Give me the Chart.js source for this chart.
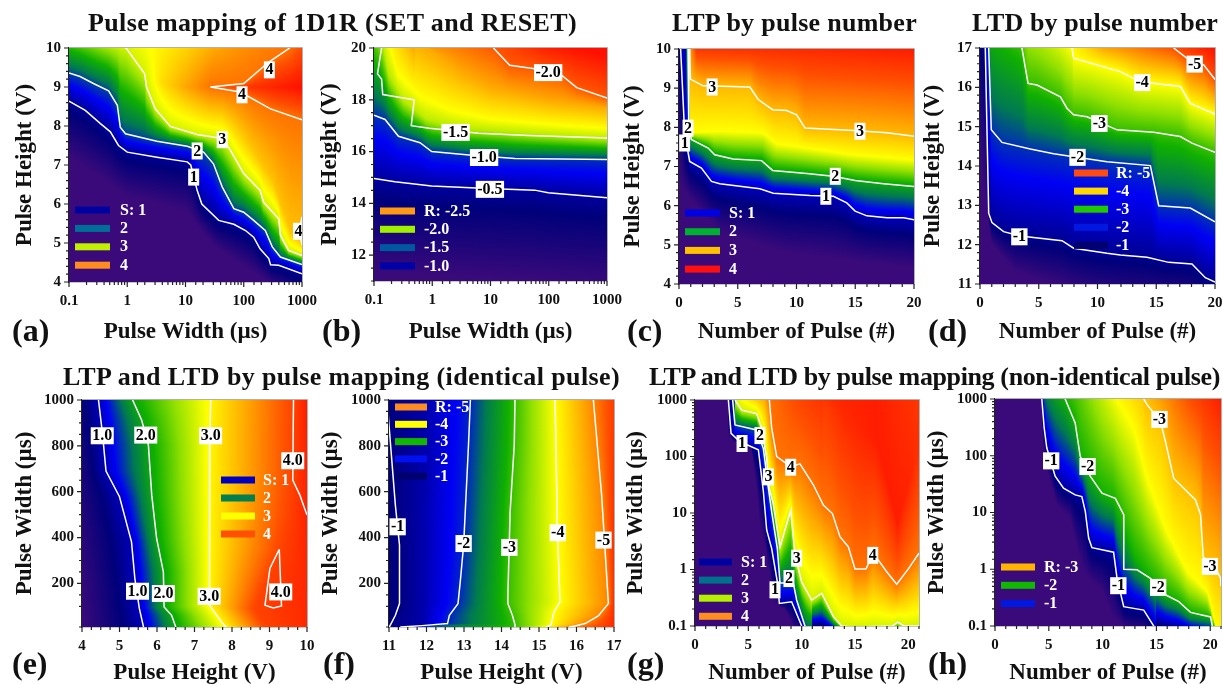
<!DOCTYPE html>
<html>
<head>
<meta charset="utf-8">
<title>Pulse mapping</title>
<script src="https://cdn.jsdelivr.net/npm/chart.js@4"></script>
<style>
  html, body { margin: 0; background: #fff; }
  #page { position: relative; width: 1223px; height: 684px; overflow: hidden; filter: blur(0.5px); }
  canvas { position: absolute; }
  .txt { position: absolute; font: bold 26px "Liberation Serif", serif; color: #111; white-space: nowrap; }
  .tag { font-size: 32px; }
</style>
</head>
<body>
<div id="page"></div>
<script>
'use strict';

// ---------------------------------------------------------------------------
// Data. Points are [x, y] or [x, y, colourIndex].
// Log axes are given in decades (-1 = 0.1, 3 = 1000).
// ---------------------------------------------------------------------------

// colour ramp used by every map, index = position on the ramp
const ramp = ['#3a0a7a', '#00007a', '#0000f5', '#007a50', '#10b000', '#90e000', '#ffff00', '#ffa800', '#ff5000', '#ff1000'];

const decadeLabels = ['0.1', '1', '10', '100', '1000'];

// (a)
const aPurple = [[-1,7.2],[0,6.2],[1,5.8],[1.5,4.9],[2,4.4],[2.4,4],[3,3.4]];
const aC1 = [[-1,8.64],[-0.72,8.4],[-0.46,8.06],[-0.29,7.85],[-0.15,7.5],[0,7.33],[0.51,7.2],[1.03,7.08],[1.09,7],[1.2,6.35],[1.28,6],[1.57,5.58],[1.83,5.48],[2.03,5.32],[2.17,5.15],[2.28,4.85],[2.43,4.6],[2.46,4.44],[2.6,4.43],[3,4.21]];
const aC2 = [[-1,9.36],[-0.81,9.27],[-0.58,9.09],[-0.32,8.9],[-0.17,8.53],[-0.12,7.97],[-0.03,7.8],[0.51,7.61],[1.03,7.48],[1.31,7.33],[1.48,7.03],[1.63,6.44],[1.83,5.88],[2,5.79],[2.17,5.58],[2.37,5.32],[2.49,4.9],[2.63,4.64],[3,4.45]];
const aC3 = [[-1,10.6],[-0.02,10],[0.3,9.34],[0.33,9],[0.48,8.44],[0.74,7.99],[1.2,7.78],[1.63,7.68],[1.77,7.38],[2,6.78],[2.28,6.35],[2.34,6.05],[2.6,5.62],[2.63,5.2],[2.77,4.81],[3,4.68]];
const aOrange = [[1.8,8.05,6.54],[2,7.7,6.6],[2.5,6.6,6.7],[2.8,5.3,6.7],[3,5,6.7]];
const aLow4 = [[1.43,9],[1.94,8.87],[2.46,8.44],[3,8.16]];
const aUp4 = [[1.43,9],[2,9.09],[2.43,9.64],[2.79,10]];
const aSpot4 = [[3,5.67],[2.95,5.3],[3,4.95]];
const aRidge = [[0.3,9.34,5.6],[0.6,9.1,6.4],[1,9,7],[1.43,9,7.6],[2,9,8.4],[3,9,9]];
const aTop = [[-0.02,10,5.6],[0.5,10,6.1],[1,10,6.5],[1.5,10,7],[2,10,7.3],[2.79,10,7.6],[3,10,8.1]];
const aTags = [['1',1.14,6.69],['2',1.2,7.36],['3',1.63,7.65],['4',2.44,9.44],['4',1.97,8.8],['4',2.94,5.3]];

// (b)
const bPurple = [[-1,11.3],[3,10.8]];
const bC05 = [[-1,14.96],[-0.64,14.83],[-0.01,14.67],[0.85,14.58],[1.76,14.51],[1.99,14.41],[3,14.22]];
const bC10 = [[-1,17.4],[-0.81,17.24],[-0.58,16.59],[-0.21,16.34],[-0.01,16],[0.68,15.86],[1.42,15.73],[3,15.69]];
const bC15 = [[-0.87,20],[-0.94,19],[-0.87,18.8],[-0.85,18.2],[-0.31,18],[-0.36,17],[-0.05,16.9],[0.8,16.71],[1.66,16.62],[3,16.52]];
const bLime = [[-1,21.4],[-0.87,20.4],[-0.75,19],[-0.5,18],[-0.1,17.25],[0.5,16.9],[1.7,16.7],[3,16.5]];
const bYellow = [[-0.9,22],[-0.75,20.3],[-0.6,19],[-0.2,18.1],[0.3,17.6],[1,17.25],[2,17.05],[3,16.9]];
const bOrange = [[-0.3,20.4],[0.5,19.1],[1,18.5],[2,18],[3,17.7]];
const bC20 = [[1.05,20],[1.33,19.33],[1.76,19.2],[2.22,18.95],[2.48,18.47],[3,18.07]];
const bTop = [[-0.75,20,6],[-0.3,20,7],[1.05,20,7.9],[2,20,8.8],[3,20,9.2]];
const bTags = [['-2.0',1.99,19.05],['-1.5',0.4,16.74],['-1.0',0.89,15.77],['-0.5',0.99,14.54]];

// (c)
const cPurple = [[0,6.5],[3.5,5.3],[9,4.8],[20,4.4]];
const cC1 = [[0,13],[0.14,10],[0.48,7.86],[0.91,7.13],[1.91,6.96],[2.76,6.62],[3.47,6.56],[6.88,6.43],[8.02,6.32],[11.15,6.26],[13.14,6.24],[14.28,6.07],[14.99,5.86],[15.99,5.74],[17.7,5.69],[19.12,5.69],[20,5.64]];
const cC2 = [[0.6,12],[0.77,10],[0.83,8.03],[1.05,7.69],[2.48,7.47],[3.04,7.3],[4.61,7.19],[7.03,7.15],[7.97,6.9],[10.87,6.82],[13.14,6.75],[14.99,6.64],[17.41,6.56],[20,6.49]];
const cYellow = [[0.8,12],[0.97,7.86],[3.47,7.9],[7.17,7.86],[8.3,7.58],[14.85,7.3],[20,7.17]];
const cC3 = [[0.7,12],[0.91,10],[0.97,9.23],[2.05,9.06],[6.03,9.03],[6.74,8.71],[7.97,8.45],[9.16,8.43],[10.01,8.32],[10.73,7.98],[14.85,7.92],[17.7,7.86],[20,7.77]];
const cTop = [[0.91,10,7],[1.5,10,8.4],[20,10,8.8]];
const cTags = [['1',0.48,7.6],['2',0.77,7.98],['3',2.82,9.03],['3',15.4,7.9],['2',13.3,6.75],['1',12.5,6.24]];

// (d)
const dPurple = [[0,14],[1,12],[3,11.3],[6,11],[10,10.6],[20,10.3]];
const dC1 = [[0,18],[0.45,17],[0.74,12.8],[1.02,12.56],[2.01,12.33],[3.43,12.22],[6.98,12.1],[7.97,11.91],[10.81,11.78],[11.94,11.74],[14.21,11.68],[16.06,11.55],[18.04,11.51],[19.18,11.16],[20,11.05]];
const dC2 = [[0.3,19],[0.74,17],[0.96,14.92],[1.87,14.6],[4.28,14.43],[6.27,14.31],[8.26,14.22],[10.81,14.11],[14.5,14.01],[15.21,12.99],[17.9,12.93],[20,12.58]];
const dC3 = [[0.74,17.8],[3.57,17],[4.09,16.1],[4.85,16.06],[6.84,15.76],[7.4,15.47],[7.97,15.3],[9.11,15.25],[11.66,14.92],[14.78,14.86],[17.05,14.75],[18.04,14.58],[20,14.35]];
const dC4 = [[0.74,19.5],[7.83,17],[7.97,16.74],[11.94,16.4],[13.65,16.14],[17.05,16.02],[17.9,15.59],[20,15.32]];
const dC5 = [[16.48,17],[17.62,16.74],[19.04,16.57],[20,16.2]];
const dTop = [[7.83,17,6],[10.5,17,7],[16.48,17,8],[20,17,9]];
const dTags = [['-1',3.35,12.2],['-2',8.3,14.22],['-3',10.16,15.08],['-4',13.8,16.12],['-5',18.27,16.59]];

// (e)
const eLeft = [[4,1000,0.9],[4,600,0.5],[4,200,0.1],[4,10,0]];
const eC1 = [[4.44,1000],[4.55,847],[4.64,690],[5,578],[5.32,381],[5.41,221],[5.53,90],[5.64,10]];
const eC2 = [[5.35,1000],[5.59,913],[5.77,804],[5.86,585],[5.99,396],[6.17,250],[6.19,97],[6.39,61],[6.5,10]];
const eC3 = [[7.43,1000],[7.41,804],[7.4,105],[7.72,32],[7.84,10]];
const eC4 = [[9.64,1000],[9.62,651],[9.81,585],[10,498]];
const eLoop = [[9.26,349],[9.01,265],[8.88,105],[9.1,93],[9.32,102],[9.26,349]];
const eRidge = [[9.64,1000],[9.62,651],[9.5,500],[9.3,349],[8.88,200],[8.6,90],[8.9,10]];
const eRight = [[10,1000,8.8],[10,10,8.6]];
const eTags = [['1.0',4.54,844],['2.0',5.7,847],['3.0',7.43,844],['4.0',9.62,735],['1.0',5.48,166],['2.0',6.17,156],['3.0',7.39,144],['4.0',9.3,163]];

// (f)
const fLeft = [[11,1000,1],[11,10,1]];
const fC1 = [[10.95,1000],[11,891],[11.17,541],[11.28,367],[11.28,112],[11.17,61],[11.01,10]];
const fNavy = [[12,1000],[11.9,500],[11.9,10]];
const fC2 = [[13.17,1000],[13.12,804],[12.99,367],[12.9,207],[12.84,112],[12.61,61],[12.56,25],[11.88,16],[11.3,10]];
const fC3 = [[14.36,1000],[14.34,804],[14.23,512],[14.17,148],[14.17,112],[14.29,61],[14.36,20],[14.36,10]];
const fC4 = [[15.43,1000],[15.49,440],[15.56,119],[15.4,76],[15.32,20],[15.2,10]];
const fC5 = [[16.45,1000],[16.67,585],[16.85,112],[16.58,58],[16.23,25],[15.96,14],[15.8,10]];
const fRight = [[17,1000,8.3],[17,10,8.6]];
const fTags = [['-1',11.23,447],['-2',12.99,374],['-3',14.21,357],['-4',15.5,421],['-5',16.72,389]];

// (g)
const gPurple = [[2.5,3],[2.8,2.41],[3.6,2.26],[5.3,2.12],[5.8,1.38],[6.1,0.7],[6.6,0.37],[7.1,-0.22],[7.3,-0.6],[8.4,-0.7],[9.3,-1.05],[21,-1.3]];
const gC1 = [[3.13,3],[3.38,2.41],[4.22,2.26],[5.94,2.12],[6.41,1.38],[6.72,0.7],[7.19,0.37],[7.72,-0.22],[7.91,-0.6],[9.06,-0.57],[10,-1],[10.5,-1.2]];
const gC2 = [[3.53,3],[3.75,2.56],[5.78,2.47],[6.41,2.14],[6.88,1.44],[7.19,1.02],[7.72,0.37],[7.97,-0.24],[9.22,-0.24],[9.53,-0.54],[10.31,-1],[11,-1.2]];
const gC3 = [[3.75,3],[4.38,2.82],[5.78,2.76],[6.25,2.5],[6.72,1.97],[6.88,1.5],[7.34,1.17],[7.97,0.4],[8.97,1.05],[9.38,0.26],[10,-0.22],[10.94,-0.54],[11.88,-0.42],[12.97,-0.83],[13.75,-1],[14.8,-1.02],[18.5,-1],[19,-0.93],[19.6,-1],[21,-1]];
const gC4 = [[6.97,3],[7.19,2.5],[7.66,2],[8.97,1.82],[9.84,1.87],[11.09,1.5],[12.03,1.14],[12.88,0.99],[13.59,0.58],[14.38,0.4],[15,0.01],[16.03,0.01],[16.72,0.29],[17.97,-0.04],[18.91,-0.26],[20,0.01],[21,0.29]];
const gRed = [[12,2.95,8.3],[14,2.7,8.6],[17,2.3,8.8],[19,0.8,8.8],[20,1.5,8.7],[21,2.2,8.5]];
const gTop = [[3.75,3,5.6],[5,3,6.2],[6.5,3,6.9],[7,3,7.6],[10,3,8.2],[14,3,8.7],[17,3,8.8],[21,3,8.4]];
const gTags = [['1',4.41,2.23],['2',6.09,2.37],['3',6.88,1.64],['4',8.97,1.81],['3',9.53,0.2],['4',16.66,0.25],['2',8.81,-0.16],['1',7.5,-0.36]];

// (h)
const hPurple = [[4,3],[4.3,2.49],[4.5,2.14],[5,1.64],[5.8,1.1],[7,0.9],[7.8,0.2],[8.3,-0.1],[10,-0.4],[11,-0.9],[12.5,-1.1],[15,-1.2],[21,-1.3]];
const hC1 = [[4.35,3],[4.57,2.49],[4.81,2.14],[5.59,1.64],[6.37,1.43],[7.45,1.31],[8.07,1.28],[8.39,1.02],[8.7,0.55],[9.01,0.38],[11.02,0.3],[11.34,-0.16],[11.96,-0.66],[13.82,-0.72],[14.75,-1],[15,-1.2]];
const hC2 = [[4.35,3.6],[6.52,3],[7.45,2.58],[7.92,1.99],[8.85,1.64],[9.94,1.34],[11.18,1.25],[11.96,0.96],[11.97,0],[13.2,-0.01],[14.44,-0.16],[15.84,-0.45],[17.08,-0.57],[18.17,-0.76],[20.03,-0.84],[20.19,-1],[20.3,-1.2]];
const hGreen = [[4.35,3.6],[6.52,3],[7.45,2.58],[7.92,1.99],[8.85,1.64],[9.94,1.34],[11,1.2],[12,0.7],[13,0.2],[14.44,-0.16],[15.84,-0.45],[17.08,-0.57],[18.17,-0.76],[20.03,-0.84],[20.19,-1],[20.3,-1.2]];
const hYellow = [[11.34,3],[12.89,2.49],[14.13,1.6],[15.84,0.72],[17.86,-0.04],[19.72,-0.39],[20.5,-1],[21,-1.2]];
const hC3 = [[13.82,3],[14.13,2.9],[15.37,2.61],[15.84,2.25],[16.61,1.6],[18.63,1.22],[19.1,0.96],[19.35,0.22],[20.5,0.02],[20.96,-0.16],[21,-0.3]];
const hTop = [[6.52,3,4],[9,3,5],[11.34,3,6],[13.82,3,6.6],[18,3,8],[21,3,8.8]];
const hTags = [['-1',5.22,1.91],['-2',8.6,1.81],['-3',15.28,2.64],['-3',19.97,0.05],['-1',11.46,-0.29],['-2',15.16,-0.32]];

// legends
const legendS = ['S: 1', '2', '3', '4'];
const legendR2 = ['R: -2.5', '-2.0', '-1.5', '-1.0'];
const legendR5 = ['R: -5', '-4', '-3', '-2', '-1'];
const legendR3 = ['R: -3', '-2', '-1'];

const titles = [
  ['Pulse mapping of 1D1R (SET and RESET)', 88, 577, 23],
  ['LTP by pulse number', 672, 917, 23],
  ['LTD by pulse number', 972, 1218, 23],
  ['LTP and LTD by pulse mapping (identical pulse)', 63, 620, 377],
  ['LTP and LTD by pulse mapping (non-identical pulse)', 649, 1220, 377],
];

// ---------------------------------------------------------------------------
// Panels
// ---------------------------------------------------------------------------

const HEIGHT = 'Pulse Height (V)', WIDTH = 'Pulse Width (µs)', COUNT = 'Number of Pulse (#)';

const panels = [
  { tag: '(a)', tagX: 12, tagY: 330, box: [69, 302, 48, 282], yTitleX: 25, xTitleY: 332, along: 'x',
    x: { log: true, min: 0.1, max: 1000, title: WIDTH },
    y: { min: 4, max: 10, step: 0.2, every: 1, title: HEIGHT },
    field: [[aPurple, 0], [aC1, 1.25], [aC2, 2.55], [aC3, 5.6], [aOrange], [aLow4, 7.6], [aRidge], [aUp4, 7.6], [aTop]],
    lines: [aC1, aC2, aC3, aLow4, aUp4, aSpot4], tags: aTags,
    legend: { labels: legendS, colors: ['#0000a0', '#006e96', '#c0f000', '#ff8c1e'], x: 6, y: 162, step: 18.4, w: 35, textX: 51 } },
  { tag: '(b)', tagX: 322, tagY: 330, box: [374, 607, 48, 281], yTitleX: 330, xTitleY: 332, along: 'x',
    x: { log: true, min: 0.1, max: 1000, title: WIDTH },
    y: { min: 11, max: 20, step: 0.5, every: 2, title: HEIGHT },
    field: [[bPurple, 0], [bC05, 1.3], [bC10, 2.4], [bLime, 5.4], [bYellow, 6], [bOrange, 7], [bC20, 7.9], [bTop]],
    lines: [bC05, bC10, bC15, bC20], tags: bTags,
    legend: { labels: legendR2, colors: ['#ff9a14', '#a0f000', '#0058a0', '#0000a8'], x: 6, y: 163, step: 18.3, w: 35, textX: 50 } },
  { tag: '(c)', tagX: 627, tagY: 330, box: [679, 914, 49, 284], yTitleX: 633, xTitleY: 332, along: 'x',
    x: { min: 0, max: 20, step: 1, every: 5, title: COUNT },
    y: { min: 4, max: 10, step: 0.2, every: 1, title: HEIGHT },
    field: [[cPurple, 0], [cC1, 1.5], [cC2, 3.8], [cYellow, 6], [cC3, 6.8], [cTop]],
    lines: [cC1, cC2, cC3], tags: cTags,
    legend: { labels: legendS, colors: ['#0000e0', '#00b030', '#ffc000', '#ff1010'], x: 6, y: 164, step: 18.7, w: 35, textX: 50 } },
  { tag: '(d)', tagX: 928, tagY: 330, box: [980, 1215, 48, 284], yTitleX: 933, xTitleY: 332, along: 'x',
    x: { min: 0, max: 20, step: 1, every: 5, title: COUNT },
    y: { min: 11, max: 17, step: 0.2, every: 1, title: HEIGHT },
    field: [[dPurple, 0], [dC1, 1.2], [dC2, 2.4], [dC3, 4.3], [dC4, 6], [dC5, 8], [dTop]],
    lines: [dC1, dC2, dC3, dC4, dC5], tags: dTags,
    legend: { labels: legendR5, colors: ['#ff4a14', '#ffd800', '#20c800', '#0018e0', '#00006e'], x: 94, y: 125, step: 18.1, w: 34, textX: 136 } },
  { tag: '(e)', tagX: 12, tagY: 663, box: [82, 307, 400, 627], yTitleX: 25, xTitleY: 673, along: 'y',
    x: { min: 4, max: 10, step: 0.25, every: 1, title: HEIGHT },
    y: { min: 10, max: 1000, step: 50, every: 200, title: WIDTH },
    field: [[eLeft], [eC1, 1.5], [eC2, 3.8], [eC3, 6.1], [eRidge, 8.2], [eRight]],
    lines: [eC1, eC2, eC3, eC4, eLoop], tags: eTags,
    legend: { labels: legendS, colors: ['#0000c0', '#008050', '#ffff00', '#ff5000'], x: 139, y: 80, step: 18, w: 34, textX: 181 } },
  { tag: '(f)', tagX: 323, tagY: 663, box: [389, 614, 400, 627], yTitleX: 331, xTitleY: 673, along: 'y',
    x: { min: 11, max: 17, step: 0.25, every: 1, title: HEIGHT },
    y: { min: 10, max: 1000, step: 50, every: 200, title: WIDTH },
    field: [[fLeft], [fC1, 1.05], [fNavy, 1.4], [fC2, 2.3], [fC3, 4.3], [fC4, 6], [fC5, 7.4], [fRight]],
    lines: [fC1, fC2, fC3, fC4, fC5], tags: fTags,
    legend: { labels: legendR5, colors: ['#ff8c1e', '#ffff00', '#10b800', '#0010f0', '#00006e'], x: 6, y: 7, step: 17.3, w: 32, textX: 46 } },
  { tag: '(g)', tagX: 627, tagY: 663, box: [695, 919, 400, 626], yTitleX: 636, xTitleY: 673, along: 'x',
    x: { min: 0, max: 21, step: 1, every: 5, title: COUNT },
    y: { log: true, min: 0.1, max: 1000, title: WIDTH },
    field: [[gPurple, 0], [gC1, 1.3], [gC2, 2.6], [gC3, 5.6], [gC4, 7.6], [gRed], [gTop]],
    lines: [gC1, gC2, gC3, gC4], tags: gTags,
    legend: { labels: legendS, colors: ['#0000a0', '#00708c', '#b4f000', '#ff8c1e'], x: 4, y: 162, step: 18.1, w: 33, textX: 46 } },
  { tag: '(h)', tagX: 928, tagY: 663, box: [995, 1221, 399, 626], yTitleX: 937, xTitleY: 673, along: 'x',
    x: { min: 0, max: 21, step: 1, every: 5, title: COUNT },
    y: { log: true, min: 0.1, max: 1000, title: WIDTH },
    field: [[hPurple, 0], [hC1, 1.3], [hGreen, 4], [hYellow, 6], [hC3, 6.7], [hTop]],
    lines: [hC1, hC2, hC3], tags: hTags,
    legend: { labels: legendR3, colors: ['#ffb400', '#10b800', '#0018e0'], x: 6, y: 168, step: 18.3, w: 34, textX: 49 } },
];

// ---------------------------------------------------------------------------
// Colour helpers
// ---------------------------------------------------------------------------

function rampColor(t) {
  const c = Math.max(0, Math.min(ramp.length - 1, t));
  const i = Math.min(Math.floor(c), ramp.length - 2);
  const f = c - i;
  const a = ramp[i], b = ramp[i + 1];
  const ch = k => {
    const av = parseInt(a.substr(k, 2), 16), bv = parseInt(b.substr(k, 2), 16);
    return Math.round(av + (bv - av) * f);
  };
  return `rgb(${ch(1)},${ch(3)},${ch(5)})`;
}

// Where a polyline crosses the strip at pixel `p` along the strip axis
function crossing(line, p) {
  for (let i = 0; i < line.length - 1; i++) {
    const a = line[i], b = line[i + 1];
    if (p < Math.min(a.along, b.along) || p > Math.max(a.along, b.along)) continue;
    const f = a.along === b.along ? 0 : (p - a.along) / (b.along - a.along);
    return { across: a.across + (b.across - a.across) * f, t: a.t + (b.t - a.t) * f };
  }
  return null;
}

// ---------------------------------------------------------------------------
// Plugins
// ---------------------------------------------------------------------------

const mapPlugin = {
  id: 'mapField',
  beforeDatasetsDraw(chart, args, opts) {
    const { ctx, chartArea: area, scales } = chart;
    const panel = opts.panel;
    const alongX = panel.along === 'x';
    const toPx = (p) => {
      const px = scales.x.getPixelForValue(panel.x.log ? Math.pow(10, p[0]) : p[0]);
      const py = scales.y.getPixelForValue(panel.y.log ? Math.pow(10, p[1]) : p[1]);
      return { px, py };
    };
    const lines = panel.field.map(([pts, t]) => pts.map(p => {
      const { px, py } = toPx(p);
      return { along: alongX ? px : py, across: alongX ? py : px, t: t === undefined ? p[2] : t };
    }));

    ctx.save();
    ctx.beginPath();
    ctx.rect(area.left, area.top, area.width, area.height);
    ctx.clip();

    const start = alongX ? area.left : area.top;
    const end = alongX ? area.right : area.bottom;
    const dir = alongX ? -1 : 1; // stops run bottom to top, or left to right

    for (let p = start; p < end; p++) {
      const stops = [];
      let last = -Infinity;
      for (const line of lines) {
        const c = crossing(line, p + 0.5);
        if (!c) continue;
        last = Math.max(last, c.across * dir);
        stops.push({ u: last, t: c.t });
      }
      let fill;
      if (stops.length === 0) {
        fill = rampColor(0);
      } else if (stops[stops.length - 1].u - stops[0].u < 0.01) {
        fill = rampColor(stops[stops.length - 1].t);
      } else {
        const u0 = stops[0].u, u1 = stops[stops.length - 1].u;
        fill = alongX ? ctx.createLinearGradient(0, u0 * dir, 0, u1 * dir) : ctx.createLinearGradient(u0 * dir, 0, u1 * dir, 0);
        for (let i = 0; i < stops.length; i++) {
          const s = stops[i];
          fill.addColorStop((s.u - u0) / (u1 - u0), rampColor(s.t));
          const n = stops[i + 1];
          if (!n || n.u === s.u) continue;
          // keep the ramp's colours between two far apart stops
          const lo = Math.min(s.t, n.t), hi = Math.max(s.t, n.t);
          for (let k = Math.ceil(lo); k < hi; k++) {
            if (k === lo) continue;
            const u = s.u + (n.u - s.u) * (k - s.t) / (n.t - s.t);
            fill.addColorStop((u - u0) / (u1 - u0), rampColor(k));
          }
        }
      }
      ctx.fillStyle = fill;
      if (alongX) ctx.fillRect(p, area.top, 1, area.height);
      else ctx.fillRect(area.left, p, area.width, 1);
    }
    ctx.restore();
  },
  afterDatasetsDraw(chart, args, opts) {
    const { ctx, chartArea: area, scales } = chart;
    const panel = opts.panel;

    // contour tags
    ctx.save();
    ctx.font = 'bold 16px "Liberation Serif", serif';
    ctx.textAlign = 'center';
    ctx.textBaseline = 'middle';
    for (const [text, vx, vy] of panel.tags) {
      const x = scales.x.getPixelForValue(panel.x.log ? Math.pow(10, vx) : vx);
      const y = scales.y.getPixelForValue(panel.y.log ? Math.pow(10, vy) : vy);
      const w = ctx.measureText(text).width + 3;
      ctx.fillStyle = '#fff';
      ctx.fillRect(x - w / 2, y - 8.5, w, 17);
      ctx.fillStyle = '#000';
      ctx.fillText(text, x, y + 0.5);
    }

    // swatch legend inside the map
    const lg = panel.legend;
    ctx.textAlign = 'left';
    lg.labels.forEach((label, i) => {
      const y = area.top + lg.y + i * lg.step;
      ctx.fillStyle = lg.colors[i];
      ctx.fillRect(area.left + lg.x, y - 3.5, lg.w, 7);
      ctx.fillStyle = '#fff';
      ctx.fillText(label, area.left + lg.textX, y + 0.5);
    });
    ctx.restore();
  },
  afterDraw(chart) {
    const { ctx, chartArea: area, scales } = chart;
    ctx.save();
    // thin top and right frame
    ctx.strokeStyle = '#b0b0b0';
    ctx.lineWidth = 1;
    ctx.beginPath();
    ctx.moveTo(area.left, area.top - 0.5);
    ctx.lineTo(area.right + 0.5, area.top - 0.5);
    ctx.lineTo(area.right + 0.5, area.bottom);
    ctx.stroke();
    // major and minor tick marks
    ctx.strokeStyle = '#222';
    ctx.lineWidth = 1.2;
    ctx.beginPath();
    for (const t of scales.x.ticks) {
      const px = scales.x.getPixelForValue(t.value);
      ctx.moveTo(px, area.bottom);
      ctx.lineTo(px, area.bottom + (t.label ? 5 : 3));
    }
    for (const t of scales.y.ticks) {
      const py = scales.y.getPixelForValue(t.value);
      ctx.moveTo(area.left, py);
      ctx.lineTo(area.left - (t.label ? 5 : 3), py);
    }
    ctx.stroke();
    ctx.restore();
  },
};

// ---------------------------------------------------------------------------
// Building the charts
// ---------------------------------------------------------------------------

function axisOptions(axis, fixedSize, padding) {
  const ticks = { color: '#111', font: { family: '"Liberation Serif", serif', size: 15, weight: 'bold' },
    autoSkip: false, maxRotation: 0, padding };
  if (axis.log) {
    ticks.callback = v => {
      const e = Math.log10(v);
      return Math.abs(e - Math.round(e)) < 1e-6 ? decadeLabels[Math.round(e) + 1] : '';
    };
  } else {
    ticks.stepSize = axis.step;
    ticks.callback = v => {
      const r = v / axis.every;
      return Math.abs(r - Math.round(r)) < 1e-6 ? String(v) : '';
    };
  }
  return {
    type: axis.log ? 'logarithmic' : 'linear',
    min: axis.min,
    max: axis.max,
    grid: { display: false, drawTicks: false },
    border: { display: true, color: '#222', width: 1.2 },
    ticks,
    title: { display: true, text: axis.title, color: '#111', padding: 0,
      font: { family: '"Liberation Serif", serif', size: 23, weight: 'bold' } },
    afterFit(scale) {
      if (scale.isHorizontal()) scale.height = fixedSize; else scale.width = fixedSize;
      // the plot box is fixed by hand, tick labels may hang over it
      scale.paddingTop = scale.paddingBottom = scale.paddingLeft = scale.paddingRight = 0;
    },
  };
}

function buildPanel(panel, page) {
  const [L, R, T, B] = panel.box;
  const padTop = 10, padRight = 24;
  const yWidth = Math.round(L - panel.yTitleX + 13.8);
  const xHeight = Math.round(panel.xTitleY - B + 13.8);

  const canvas = document.createElement('canvas');
  canvas.width = yWidth + (R - L) + padRight;
  canvas.height = padTop + (B - T) + xHeight;
  canvas.style.left = (L - yWidth) + 'px';
  canvas.style.top = (T - padTop) + 'px';
  page.appendChild(canvas);

  const datasets = panel.lines.map(pts => ({
    data: pts.map(p => ({
      x: panel.x.log ? Math.pow(10, p[0]) : p[0],
      y: panel.y.log ? Math.pow(10, p[1]) : p[1],
    })),
    showLine: true,
    borderColor: '#fff',
    borderWidth: 1.5,
    pointRadius: 0,
    fill: false,
    tension: 0,
  }));

  const tag = document.createElement('div');
  tag.className = 'txt tag';
  tag.textContent = panel.tag;
  tag.style.left = panel.tagX + 'px';
  tag.style.top = (panel.tagY - 18) + 'px';
  page.appendChild(tag);

  return new Chart(canvas, {
    type: 'scatter',
    data: { datasets },
    options: {
      responsive: false,
      animation: false,
      layout: { padding: { top: padTop, right: padRight, left: 0, bottom: 0 } },
      plugins: { legend: { display: false }, tooltip: { enabled: false }, mapField: { panel } },
      scales: {
        x: axisOptions(panel.x, xHeight, 10),
        y: axisOptions(panel.y, yWidth, 8),
      },
    },
    plugins: [mapPlugin],
  });
}

function addTitle(page, [text, left, right, cy]) {
  const el = document.createElement('div');
  el.className = 'txt';
  el.textContent = text;
  el.style.left = left + 'px';
  el.style.top = (cy - 15) + 'px';
  page.appendChild(el);
  const spare = (right - left) - el.getBoundingClientRect().width;
  el.style.letterSpacing = (spare / text.length) + 'px';
}

const page = document.getElementById('page');
panels.forEach(p => buildPanel(p, page));
titles.forEach(t => addTitle(page, t));
</script>
</body>
</html>
